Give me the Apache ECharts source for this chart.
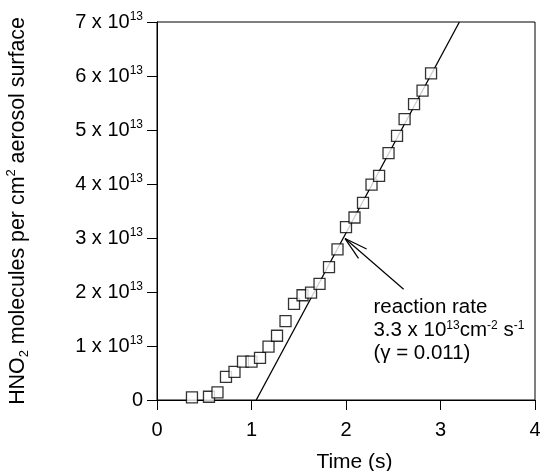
<!DOCTYPE html>
<html>
<head>
<meta charset="utf-8">
<script src="https://cdn.jsdelivr.net/npm/echarts@6/dist/echarts.min.js"></script>
<style>
html,body{margin:0;padding:0;background:#fff;}
#chart{width:540px;height:471px;}
</style>
</head>
<body>
<div id="chart"></div>
<script>
// Measured data: time (s) and HNO2 molecules per cm^2 (in units of 10^13)
const timeValues = [0.37, 0.55, 0.64, 0.73, 0.82, 0.91, 1.00, 1.09, 1.18, 1.27,
  1.36, 1.45, 1.54, 1.63, 1.72, 1.82, 1.91, 2.00, 2.09, 2.18,
  2.27, 2.35, 2.45, 2.54, 2.62, 2.72, 2.81, 2.90];
const hno2Values = [0.05, 0.06, 0.14, 0.43, 0.52, 0.71, 0.71, 0.78, 0.99, 1.19,
  1.46, 1.78, 1.94, 1.99, 2.15, 2.46, 2.79, 3.20, 3.38, 3.65,
  3.99, 4.15, 4.57, 4.89, 5.20, 5.48, 5.73, 6.05];
// Fitted reaction-rate line (time, value in 10^13)
const fitTime = [1.05, 3.20];
const fitValues = [0, 7];
// Annotation arrow: tail and tip in data coordinates
const arrowTail = [2.61, 2.05];
const arrowTip = [1.99, 2.99];
const noteAnchor = [2.29, 1.92];
const yTickMantissas = [0, 1, 2, 3, 4, 5, 6, 7];
const xTickLabels = ['0', '1', '2', '3', '4'];

const FONT = "'Liberation Sans', Arial, Helvetica, sans-serif";
const chart = echarts.init(document.getElementById('chart'), null, {renderer: 'canvas'});

const scatterData = timeValues.map((t, i) => [t, hno2Values[i]]);
const fitData = fitTime.map((t, i) => [t, fitValues[i]]);

const option = {
  animation: false,
  backgroundColor: '#fff',
  textStyle: {fontFamily: FONT, color: '#000'},
  grid: {left: 157, right: 5, top: 22, bottom: 71, show: true, borderColor: '#000', borderWidth: 1,
    containLabel: false, outerBoundsMode: 'none'},
  xAxis: {
    type: 'value', min: 0, max: 4, interval: 1,
    name: 'Time (s)', nameLocation: 'middle', nameGap: 52,
    nameTextStyle: {fontFamily: FONT, fontSize: 21, color: '#000', padding: [0, 0, 0, 17]},
    axisLine: {show: true, lineStyle: {color: '#000', width: 1}},
    axisTick: {show: true, inside: false, length: 10, lineStyle: {color: '#000', width: 1}},
    axisLabel: {fontFamily: FONT, fontSize: 20, color: '#000', margin: 20,
      formatter: v => xTickLabels[Math.round(v)]},
    splitLine: {show: false}
  },
  yAxis: {
    type: 'value', min: 0, max: 7, interval: 1,
    name: '{a|HNO}{sub|2}{a| molecules per cm}{sup|2}{a| aerosol surface}',
    nameLocation: 'middle', nameGap: 126, nameRotate: 90,
    nameTextStyle: {
      fontFamily: FONT, color: '#000', padding: [0, 0, 0, 0],
      rich: {
        a: {fontFamily: FONT, fontSize: 21.4, color: '#000', lineHeight: 26},
        sub: {fontFamily: FONT, fontSize: 13, color: '#000', verticalAlign: 'bottom', lineHeight: 15},
        sup: {fontFamily: FONT, fontSize: 13, color: '#000', verticalAlign: 'top', lineHeight: 15}
      }
    },
    axisLine: {show: true, lineStyle: {color: '#000', width: 1}},
    axisTick: {show: true, inside: false, length: 10, lineStyle: {color: '#000', width: 1}},
    axisLabel: {
      margin: 14, color: '#000',
      formatter: v => {
        const m = yTickMantissas[Math.round(v)];
        return m === 0 ? '{n|0}' : '{n|' + m + ' x 10}{s|13}';
      },
      rich: {
        n: {fontFamily: FONT, fontSize: 20, color: '#000', lineHeight: 22},
        s: {fontFamily: FONT, fontSize: 12, color: '#000', verticalAlign: 'top', lineHeight: 13}
      }
    },
    splitLine: {show: false}
  },
  series: [
    {
      type: 'line', data: fitData, showSymbol: false, symbol: 'none',
      lineStyle: {color: '#000', width: 1.3}, clip: true, z: 2
    },
    {
      type: 'scatter', data: scatterData, symbol: 'rect', symbolSize: 11,
      itemStyle: {color: '#fff', borderColor: '#000', borderWidth: 1.3}, z: 3
    },
    {
      type: 'custom', clip: false, z: 4,
      data: [[arrowTail[0], arrowTail[1], arrowTip[0], arrowTip[1]]],
      renderItem: function (params, api) {
        const tail = api.coord([api.value(0), api.value(1)]);
        const tip = api.coord([api.value(2), api.value(3)]);
        const ang = Math.atan2(tail[1] - tip[1], tail[0] - tip[0]);
        const hl = 24, spread = 15 * Math.PI / 180;
        const h1 = [tip[0] + hl * Math.cos(ang - spread), tip[1] + hl * Math.sin(ang - spread)];
        const h2 = [tip[0] + hl * Math.cos(ang + spread), tip[1] + hl * Math.sin(ang + spread)];
        const anchor = api.coord(noteAnchor);
        const ls = {stroke: '#000', lineWidth: 1.2, fill: null};
        return {
          type: 'group',
          children: [
            {type: 'line', shape: {x1: tail[0], y1: tail[1], x2: tip[0], y2: tip[1]}, style: ls},
            {type: 'line', shape: {x1: tip[0], y1: tip[1], x2: h1[0], y2: h1[1]}, style: ls},
            {type: 'line', shape: {x1: tip[0], y1: tip[1], x2: h2[0], y2: h2[1]}, style: ls},
            {
              type: 'text',
              style: {
                x: anchor[0], y: anchor[1],
                text: '{t|reaction rate}\n{t|3.3 x 10}{s|13}{t|cm}{s|-2}{t| s}{s|-1}\n{t|(\u03b3 = 0.011)}',
                align: 'left', verticalAlign: 'top',
                rich: {
                  t: {fontFamily: FONT, fontSize: 20.5, fill: '#000', lineHeight: 23},
                  s: {fontFamily: FONT, fontSize: 12, fill: '#000', verticalAlign: 'top', lineHeight: 14}
                }
              }
            }
          ]
        };
      }
    }
  ]
};
chart.setOption(option);
</script>
</body>
</html>
